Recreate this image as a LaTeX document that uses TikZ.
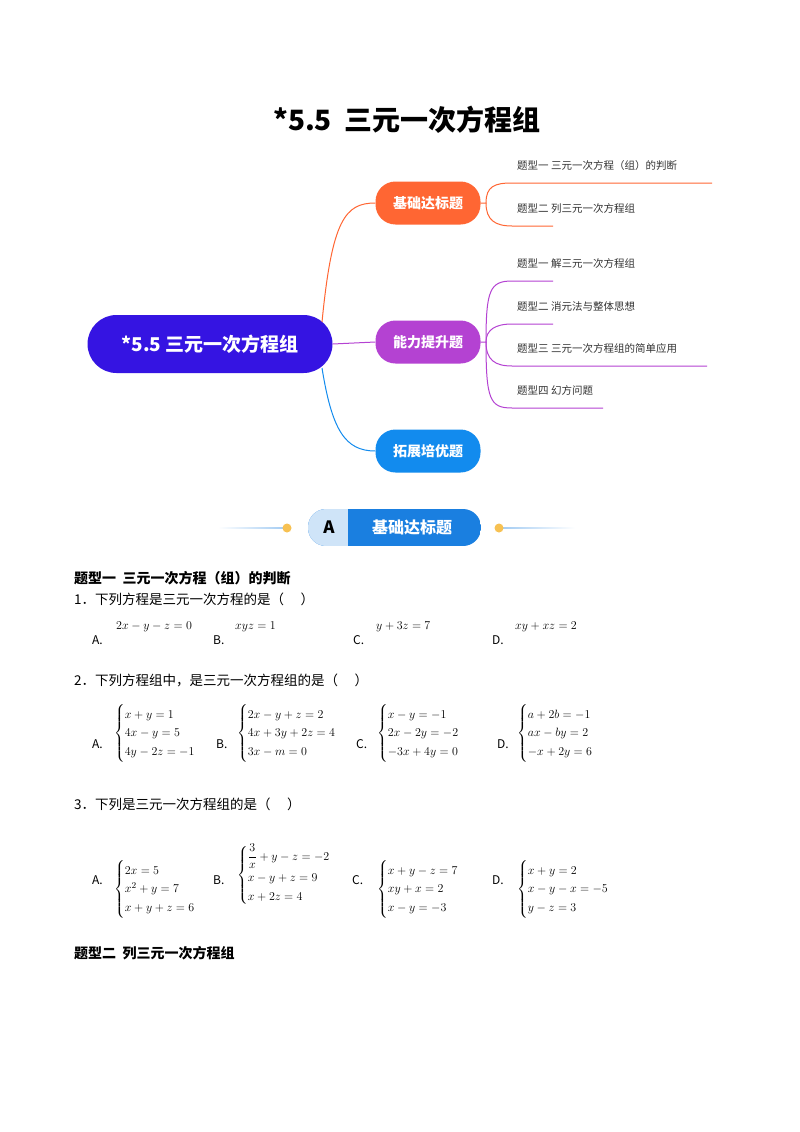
\documentclass[tikz,border=0pt]{standalone}
\usepackage{fontspec}
\usepackage{amsmath}
\newfontfamily\cjk{Noto Sans CJK SC}
\setmainfont{Noto Sans CJK SC}
\usetikzlibrary{positioning}
\definecolor{cmain}{HTML}{3514E2}
\definecolor{corange}{HTML}{FF6633}
\definecolor{cpurple}{HTML}{B442D2}
\definecolor{cblue}{HTML}{128BEE}
\definecolor{cban}{HTML}{1A7FE0}
\definecolor{cbanl}{HTML}{CFE4F8}
\definecolor{cdot}{HTML}{F7C152}
\definecolor{ctxt}{HTML}{333333}
\tikzset{
  branch/.style={rounded corners=20pt, minimum width=105pt, minimum height=43pt, text=white, font=\fontsize{14}{16}\selectfont\bfseries, inner sep=0pt},
  sub/.style={anchor=south west, font=\fontsize{10.5}{12}\selectfont, text=ctxt, inner sep=1pt},
  body/.style={anchor=west, font=\fontsize{13.5}{16}\selectfont, inner sep=0pt},
  head/.style={anchor=west, font=\fontsize{14}{16}\selectfont\bfseries, inner sep=0pt},
  opt/.style={anchor=west, font=\fontsize{12}{14}\selectfont, inner sep=0pt},
  mth/.style={anchor=west, font=\fontsize{12.5}{15}\selectfont, inner sep=0pt},
}
\newcommand{\sys}[1]{$\left\{\renewcommand{\arraystretch}{1.25}\setlength{\arraycolsep}{1pt}\begin{array}{@{}l@{}}#1\end{array}\right.$}
\begin{document}
\begin{tikzpicture}[x=1pt,y=-1pt]
\useasboundingbox (0,0) rectangle (800,1132);
\fill[white] (0,0) rectangle (800,1132);
\node[font=\fontsize{28}{32}\selectfont\bfseries] (title) at (407,120) {*5.5\ \ 三元一次方程组};
% mind map
\node[fill=cmain, rounded corners=29pt, minimum width=245pt, minimum height=58pt, text=white, font=\fontsize{19}{22}\selectfont\bfseries] (c) at (210,344) {*5.5 三元一次方程组};
\node[branch, fill=corange] (o) at (428,203) {基础达标题};
\node[branch, fill=cpurple] (p) at (428,342) {能力提升题};
\node[branch, fill=cblue] (b) at (428,451) {拓展培优题};
\coordinate (cs1) at (322,322);
\coordinate (cs2) at (322,368);
\draw[corange, line width=1pt] (cs1) .. controls (332,220) and (345,203) .. (o.west);
\draw[cpurple, line width=1pt] (c.east) -- (p.west);
\draw[cblue, line width=1pt] (cs2) .. controls (332,430) and (345,451) .. (b.west);
% orange subs
\coordinate (oj) at (486,203);
\coordinate (o1a) at (512,183); \coordinate (o1b) at (712,183);
\coordinate (o2a) at (512,226); \coordinate (o2b) at (553,226);
\draw[corange, line width=1pt] (o.east) -- (oj) .. controls (486,186) and (495,183) .. (o1a) -- (o1b);
\draw[corange, line width=1pt] (oj) .. controls (486,220) and (495,226) .. (o2a) -- (o2b);
\node[sub] (o1) at (516,172) {题型一 三元一次方程（组）的判断};
\node[sub] (o2) at (516,215) {题型二 列三元一次方程组};
% purple subs
\coordinate (pj) at (486,342);
\coordinate (p1a) at (512,281); \coordinate (p1b) at (553,281);
\coordinate (p2a) at (512,324); \coordinate (p2b) at (553,324);
\coordinate (p3a) at (512,366); \coordinate (p3b) at (707,366);
\coordinate (p4a) at (512,408); \coordinate (p4b) at (603,408);
\draw[cpurple, line width=1pt] (p.east) -- (pj) .. controls (486,290) and (490,281) .. (p1a) -- (p1b);
\draw[cpurple, line width=1pt] (pj) .. controls (486,330) and (495,324) .. (p2a) -- (p2b);
\draw[cpurple, line width=1pt] (pj) .. controls (486,360) and (495,366) .. (p3a) -- (p3b);
\draw[cpurple, line width=1pt] (pj) .. controls (486,400) and (490,408) .. (p4a) -- (p4b);
\node[sub] (s1) at (516,270) {题型一 解三元一次方程组};
\node[sub] (s2) at (516,313) {题型二 消元法与整体思想};
\node[sub] (s3) at (516,355) {题型三 三元一次方程组的简单应用};
\node[sub] (s4) at (516,397) {题型四 幻方问题};
% banner
\shade[left color=white, right color=cban!40] (218,527.3) rectangle (285,528.7);
\shade[left color=cban!40, right color=white] (502,527.3) rectangle (575,528.7);
\fill[cdot] (287,528) circle (4.5pt);
\fill[cdot] (499,528) circle (4.5pt);
\begin{scope}
\clip[rounded corners=18pt] (308,509) rectangle (481,546);
\fill[cban] (308,509) rectangle (481,546);
\fill[cbanl] (308,509) rectangle (348,546);
\end{scope}
\node[font=\fontsize{17}{20}\selectfont\bfseries] (ba) at (329,527) {A};
\node[font=\fontsize{16}{18}\selectfont\bfseries, text=white] (bt) at (412,527) {基础达标题};
% body
\node[head] (h1) at (74,578) {题型一\ \ 三元一次方程（组）的判断};
\node[body] (q1) at (74,599) {1．下列方程是三元一次方程的是（\quad\ ）};
\node[opt] at (92,640) {A.}; \node[mth] at (116,627) {$2x-y-z=0$};
\node[opt] at (213,640) {B.}; \node[mth] at (235,627) {$xyz=1$};
\node[opt] at (353,640) {C.}; \node[mth] at (376,627) {$y+3z=7$};
\node[opt] at (492,640) {D.}; \node[mth] at (515,627) {$xy+xz=2$};
\node[body] (q2) at (74,680) {2．下列方程组中，是三元一次方程组的是（\quad\ ）};
\node[opt] at (92,744) {A.}; \node[mth] at (114,733) {\sys{x+y=1\\4x-y=5\\4y-2z=-1}};
\node[opt] at (216,744) {B.}; \node[mth] at (237,733) {\sys{2x-y+z=2\\4x+3y+2z=4\\3x-m=0}};
\node[opt] at (356,744) {C.}; \node[mth] at (377,733) {\sys{x-y=-1\\2x-2y=-2\\-3x+4y=0}};
\node[opt] at (497,744) {D.}; \node[mth] at (517,733) {\sys{a+2b=-1\\ax-by=2\\-x+2y=6}};
\node[body] (q3) at (74,804) {3．下列是三元一次方程组的是（\quad\ ）};
\node[opt] at (92,880) {A.}; \node[mth] at (114,889) {\sys{2x=5\\x^2+y=7\\x+y+z=6}};
\node[opt] at (213,880) {B.}; \node[mth] at (237,875) {\sys{\dfrac{3}{x}+y-z=-2\\x-y+z=9\\x+2z=4\\ }};
\node[opt] at (352,880) {C.}; \node[mth] at (377,889) {\sys{x+y-z=7\\xy+x=2\\x-y=-3}};
\node[opt] at (492,880) {D.}; \node[mth] at (517,889) {\sys{x+y=2\\x-y-x=-5\\y-z=3}};
\node[head] (h2) at (74,953) {题型二\ \ 列三元一次方程组};
\end{tikzpicture}
\end{document}
